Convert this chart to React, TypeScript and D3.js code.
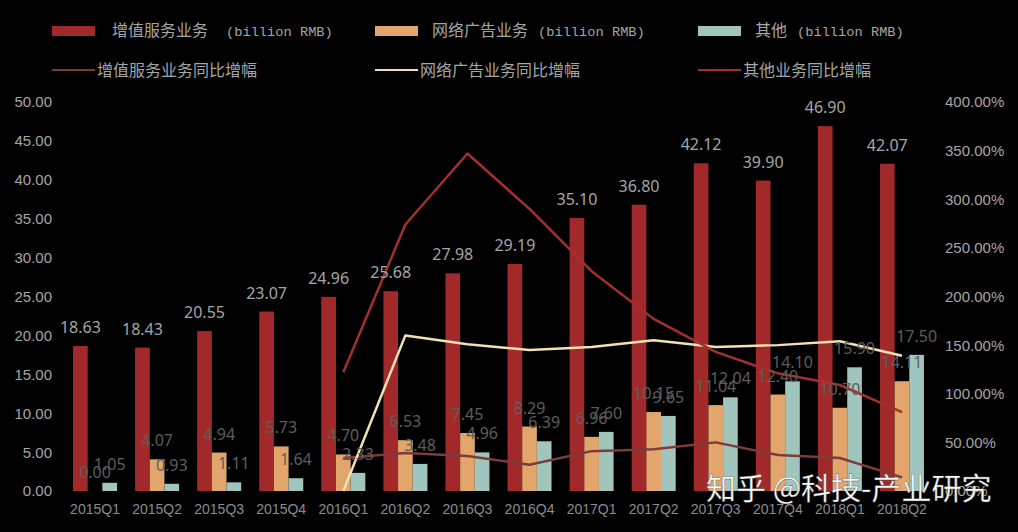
import React from "react";
import * as d3 from "d3";

// quarterly revenue (billion RMB) and year-over-year growth (%)
const quarters = [
  "2015Q1", "2015Q2", "2015Q3", "2015Q4",
  "2016Q1", "2016Q2", "2016Q3", "2016Q4",
  "2017Q1", "2017Q2", "2017Q3", "2017Q4",
  "2018Q1", "2018Q2"
];
const vasRevenue = [18.63, 18.43, 20.55, 23.07, 24.96, 25.68, 27.98, 29.19, 35.10, 36.80, 42.12, 39.90, 46.90, 42.07];
const adRevenue = [0.00, 4.07, 4.94, 5.73, 4.70, 6.53, 7.45, 8.29, 6.96, 10.15, 11.04, 12.40, 10.70, 14.11];
const otherRevenue = [1.05, 0.93, 1.11, 1.64, 2.33, 3.48, 4.96, 6.39, 7.60, 9.65, 12.04, 14.10, 15.90, 17.50];

const vasGrowth = [null, null, null, null, 34, 39, 36, 27, 41, 43, 50, 37, 34, 14];
const adGrowth = [null, null, null, null, 0, 160, 151, 145, 148, 155, 148, 150, 154, 139];
const otherGrowth = [null, null, null, null, 122, 274, 347, 290, 226, 177, 143, 121, 109, 81];

const leftTicks = [0, 5, 10, 15, 20, 25, 30, 35, 40, 45, 50];
const rightTicks = [0, 50, 100, 150, 200, 250, 300, 350, 400];

const barSeries = [
  { key: "vas", values: vasRevenue, color: "#a2292a", labelColor: "#a6a6a6", name: "增值服务业务", x: 52 },
  { key: "ad", values: adRevenue, color: "#e2a66c", labelColor: "#5e5e5e", name: "网络广告业务", x: 375 },
  { key: "other", values: otherRevenue, color: "#9fc5bc", labelColor: "#5e5e5e", name: "其他", x: 698 }
];
const lineSeries = [
  { key: "vasG", values: vasGrowth, color: "#7d3b39", name: "增值服务业务同比增幅", x: 52 },
  { key: "adG", values: adGrowth, color: "#f1e2b2", name: "网络广告业务同比增幅", x: 375 },
  { key: "otherG", values: otherGrowth, color: "#a3302e", name: "其他业务同比增幅", x: 698 }
];

const W = 1018;
const H = 532;
const grey = "#a6a6a6";
const cjk = "'Noto Sans CJK SC', sans-serif";

export default function App() {
  const x = d3.scaleBand().domain(quarters).range([64, 933]);
  const inner = d3.scaleBand().domain(barSeries.map((s) => s.key)).range([-22, 22]);
  const yLeft = d3.scaleLinear().domain([0, 50]).range([491, 102]);
  const yRight = d3.scaleLinear().domain([0, 400]).range([491, 102]);
  const cx = (q: string) => (x(q) as number) + x.bandwidth() / 2;

  const line = d3.line<number | null>()
    .defined((d) => d != null)
    .x((d, i) => cx(quarters[i]))
    .y((d) => yRight(d as number));

  return (
    <div style={{ position: "fixed", left: 0, top: 0, width: W, height: H, background: "#000" }}>
      <svg width={W} height={H} style={{ display: "block" }}>
        {/* legend */}
        {barSeries.map((s) => (
          <g key={s.key}>
            <rect x={s.x} y={26} width={43} height={10} fill={s.color} />
            <text y={36} fill={grey}>
              <tspan x={s.key === "vas" ? 112 : s.x + 57} fontFamily={cjk} fontSize={16}>{s.name}</tspan>
              <tspan dx={s.key === "vas" ? 18 : 10} fontFamily="'Liberation Mono', monospace" fontSize={13.7}>(billion RMB)</tspan>
            </text>
          </g>
        ))}
        {lineSeries.map((s) => (
          <g key={s.key}>
            <line x1={s.x} x2={s.x + 43} y1={70} y2={70} stroke={s.color} strokeWidth={2} />
            <text x={s.x + 45} y={76} fill={grey} fontFamily={cjk} fontSize={16}>{s.name}</text>
          </g>
        ))}

        {/* axes labels */}
        <g fontFamily="'Liberation Sans', Arial, sans-serif" fontSize={15} fill={grey}>
          {leftTicks.map((t) => (
            <text key={t} x={52} y={yLeft(t)} dy="0.36em" textAnchor="end">{t.toFixed(2)}</text>
          ))}
          {rightTicks.map((t) => (
            <text key={t} x={945} y={yRight(t)} dy="0.36em">{t.toFixed(2)}%</text>
          ))}
        </g>
        <g fontFamily="'Liberation Sans', Arial, sans-serif" fontSize={14} fill="#8c8c8c">
          {quarters.map((q) => (
            <text key={q} x={cx(q)} y={514} textAnchor="middle">{q}</text>
          ))}
        </g>

        {/* bars */}
        {barSeries.map((s) => (
          <g key={s.key} fill={s.color}>
            {s.values.map((v, i) => (
              <rect
                key={i}
                x={cx(quarters[i]) + (inner(s.key) as number)}
                y={yLeft(v)}
                width={inner.bandwidth()}
                height={yLeft(0) - yLeft(v)}
              />
            ))}
          </g>
        ))}

        {/* growth lines */}
        {lineSeries.map((s) => (
          <path key={s.key} d={line(s.values) || ""} fill="none" stroke={s.color} strokeWidth={2.5} strokeLinejoin="round" />
        ))}

        {/* value labels */}
        {barSeries.map((s) => (
          <g key={s.key} fontFamily="'Noto Sans', sans-serif" fontSize={16} fill={s.labelColor} textAnchor="middle">
            {s.values.map((v, i) => (
              <text key={i} x={cx(quarters[i]) + (inner(s.key) as number) + inner.bandwidth() / 2} y={yLeft(v) - 13}>
                {v.toFixed(2)}
              </text>
            ))}
          </g>
        ))}

        {/* watermark */}
        <text x={706} y={499} fontFamily={cjk} fontSize={30} fill="#ffffff" stroke="#555" strokeWidth={0.4}>
          知乎 @科技-产业研究
        </text>
      </svg>
    </div>
  );
}
